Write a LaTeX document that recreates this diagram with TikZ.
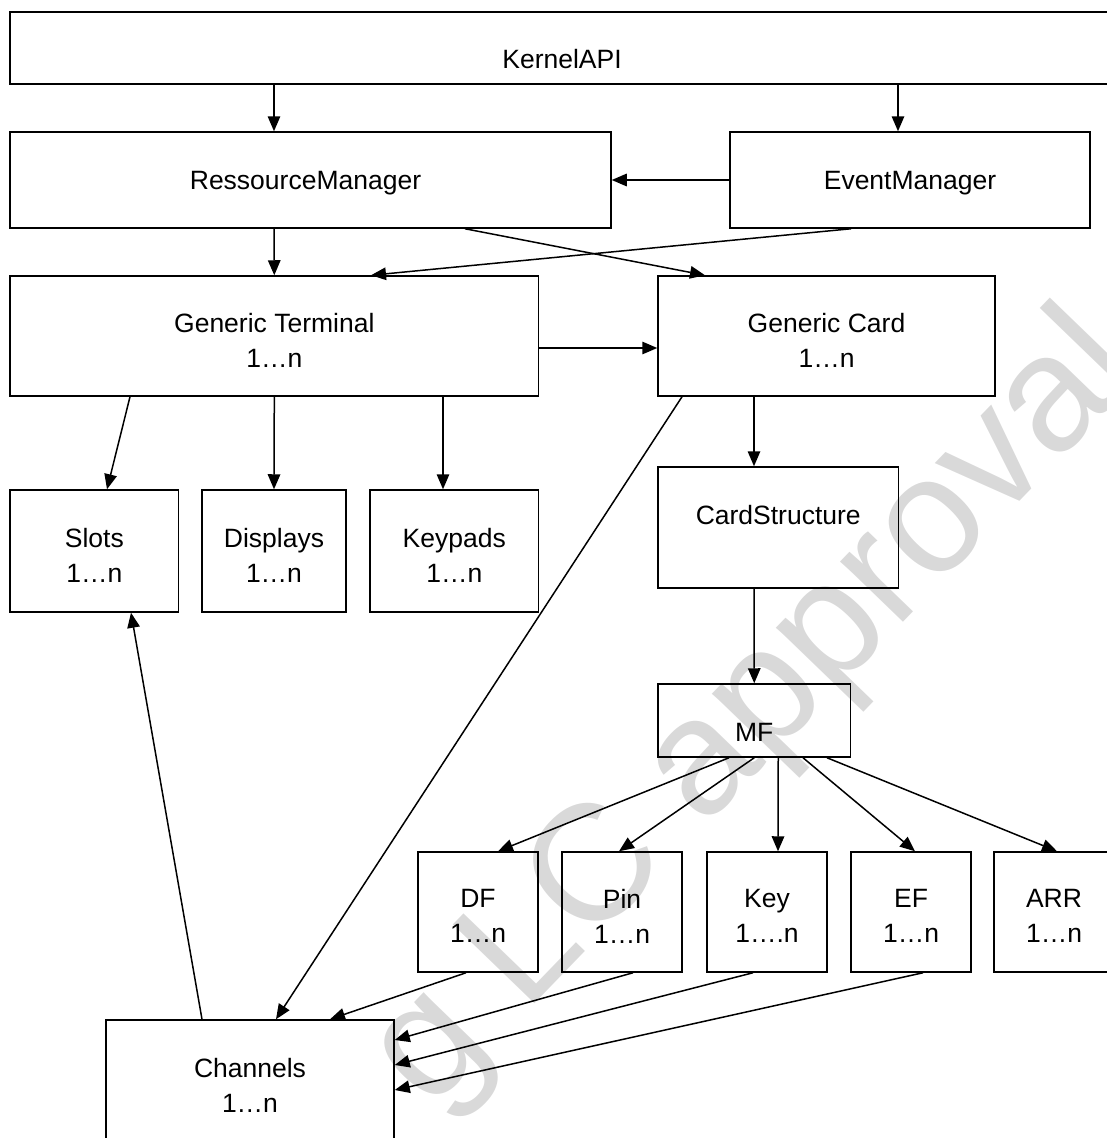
\documentclass[tikz,border=0pt]{standalone}
\usepackage{fontspec}
\setmainfont{Liberation Sans}
\usetikzlibrary{arrows.meta,fit}
\begin{document}
\begin{tikzpicture}[x=1pt,y=-1pt,
  box/.style={draw, line width=1.5pt, inner sep=0pt},
  caption/.style={font=\fontsize{26.5}{35}\selectfont, align=center,
    inner sep=0pt, text depth=0pt},
  conn/.style={line width=1.5pt, -{Triangle[length=15pt,width=12.5pt]}},
  wmark/.style={font=\fontsize{165}{165}\selectfont, text=black!15, inner sep=0pt}
]
\useasboundingbox (0,0) rectangle (1107,1138);

% faint watermark behind the diagram
\node[wmark, rotate=46, anchor=base west] (wm) at (430,1112) {g LC approval};

% boxes
\node[box, fit={(10,12) (1114,84)}]     (kapi)  {};
\node[box, fit={(10,132) (611,228)}]    (rm)    {};
\node[box, fit={(730,132) (1090,228)}]  (em)    {};
\node[box, fit={(10,276) (538.6,396)}]  (gt)    {};
\node[box, fit={(658,276) (995,396)}]   (gc)    {};
\node[box, fit={(10,490) (178.6,612)}]  (slots) {};
\node[box, fit={(202,490) (346,612)}]   (disp)  {};
\node[box, fit={(370,490) (538.6,612)}] (keyp)  {};
\node[box, fit={(658,467) (898.5,588)}] (cs)    {};
\node[box, fit={(658,684) (850.5,757)}] (mf)    {};
\node[box, fit={(418,852) (538,972)}]   (df)    {};
\node[box, fit={(562,852) (682,972)}]   (pin)   {};
\node[box, fit={(707,852) (827,972)}]   (key)   {};
\node[box, fit={(851,852) (971,972)}]   (ef)    {};
\node[box, fit={(994,852) (1114,972)}]  (arr)   {};
\node[box, fit={(106,1020) (394,1142)}] (ch)    {};

% captions
\node[caption] (kapi-t)  at ([yshift=-10.5pt]kapi.center) {KernelAPI};
\node[caption] (rm-t)    at ([xshift=-5pt]rm.center) {RessourceManager};
\node[caption] (em-t)    at (em.center) {EventManager};
\node[caption] (gt-t)    at ([yshift=-4.5pt]gt.center) {Generic Terminal\\1…n};
\node[caption] (gc-t)    at ([yshift=-4.5pt]gc.center) {Generic Card\\1…n};
\node[caption] (slots-t) at ([yshift=-4.5pt]slots.center) {Slots\\1…n};
\node[caption] (disp-t)  at ([yshift=-4.5pt]disp.center) {Displays\\1…n};
\node[caption] (keyp-t)  at ([yshift=-4.5pt]keyp.center) {Keypads\\1…n};
\node[caption] (cs-t)    at ([yshift=12.5pt]cs.center) {CardStructure};
\node[caption] (mf-t)    at ([yshift=-11.5pt]mf.center) {MF};
\node[caption] (df-t)    at ([yshift=-4pt]df.center) {DF\\1…n};
\node[caption] (pin-t)   at ([yshift=-4pt]pin.center) {Pin\\1…n};
\node[caption] (key-t)   at ([yshift=-4pt]key.center) {Key\\1….n};
\node[caption] (ef-t)    at ([yshift=-4pt]ef.center) {EF\\1…n};
\node[caption] (arr-t)   at ([yshift=-4pt]arr.center) {ARR\\1…n};
\node[caption] (ch-t)    at ([yshift=-4pt]ch.center) {Channels\\1…n};

% connectors
\draw[conn] ([xshift=-288pt]kapi.south) -- ([xshift=-36.5pt]rm.north);
\draw[conn] ([xshift=336pt]kapi.south) -- ([xshift=-12pt]em.north);
\draw[conn] (em.west) -- (rm.east);
\draw[conn] ([xshift=-36.5pt]rm.south) -- (gt.north);
\draw[conn] ([xshift=154.5pt]rm.south) -- ([xshift=-121.5pt]gc.north);
\draw[conn] ([xshift=-59pt]em.south) -- ([xshift=96.7pt]gt.north);
\draw[conn] ([yshift=-12pt]gt.east) -- ([yshift=-12pt]gc.west);
\draw[conn] ([xshift=-144.3pt]gt.south) -- ([xshift=12.7pt]slots.north);
\draw[conn] (gt.south) -- (disp.north);
\draw[conn] ([xshift=168.7pt]gt.south) -- ([xshift=-11.3pt]keyp.north);
\draw[conn] ([xshift=-72.5pt]gc.south) -- ([xshift=-24.25pt]cs.north);
\draw[conn] ([xshift=-24.25pt]cs.south) -- (mf.north);
\draw[conn] ([xshift=-25.25pt]mf.south) -- ([xshift=20pt]df.north);
\draw[conn] (mf.south) -- ([xshift=-3pt]pin.north);
\draw[conn] ([xshift=24pt]mf.south) -- ([xshift=11pt]key.north);
\draw[conn] ([xshift=48.75pt]mf.south) -- ([xshift=4pt]ef.north);
\draw[conn] ([xshift=72.75pt]mf.south) -- ([xshift=3pt]arr.north);
\draw[conn] ([xshift=-144.5pt]gc.south) -- ([xshift=26pt]ch.north);
\draw[conn] ([xshift=-48pt]ch.north) -- ([xshift=36.7pt]slots.south);
\draw[conn] ([xshift=-12pt]df.south) -- ([xshift=80pt]ch.north);
\draw[conn] ([xshift=11pt]pin.south) -- ([yshift=41pt]ch.east);
\draw[conn] ([xshift=-14pt]key.south) -- ([yshift=16pt]ch.east);
\draw[conn] ([xshift=12pt]ef.south) -- ([yshift=-9pt]ch.east);
\end{tikzpicture}
\end{document}
